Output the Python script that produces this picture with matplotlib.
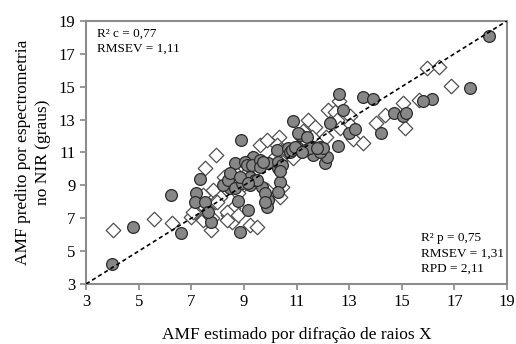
import matplotlib
matplotlib.use('Agg')
import matplotlib.pyplot as plt

# calibration set (filled circles)
cal_x = [4.0, 4.79, 6.23, 6.61, 8.89, 7.33, 7.18, 7.14, 7.75, 8.86, 9.16, 8.76,
         8.66, 9.35, 9.04, 9.12, 9.31, 9.61, 9.92, 10.26, 10.68, 11.02, 11.13,
         10.3, 10.3, 10.37, 10.3, 9.69, 9.92, 9.88, 9.23, 9.23, 9.61, 8.48, 8.21,
         8.4, 8.47, 8.66, 8.93, 9.42, 9.8, 9.8, 7.52, 7.64, 9.73, 10.45, 9.5,
         8.85, 10.75, 10.83, 10.94, 18.32, 17.6, 16.15, 15.81, 14.71, 15.05,
         15.16, 14.21, 13.53, 13.91, 12.62, 12.77, 12.27, 13.0, 13.22, 12.58,
         10.87, 11.06, 11.4, 11.59, 11.89, 12.08, 12.16, 11.63, 11.89, 11.32,
         11.51, 11.21, 12.01, 11.78, 9.16, 10.37]
cal_y = [4.22, 6.47, 8.42, 6.1, 11.76, 9.39, 8.54, 8.0, 6.77, 6.17, 7.5, 8.05,
         10.36, 10.73, 10.42, 10.24, 10.24, 10.55, 10.36, 11.15, 11.27, 11.34,
         12.07, 10.06, 10.42, 9.21, 8.6, 8.9, 8.11, 7.69, 9.02, 9.51, 10.12, 8.84,
         9.02, 9.33, 9.75, 8.84, 9.15, 9.33, 8.54, 7.99, 7.99, 7.38, 10.42,
         10.24, 9.33, 9.5, 11.03, 11.15, 11.34, 18.09, 14.92, 14.26, 14.13, 13.4,
         13.22, 13.4, 12.19, 14.38, 14.26, 14.56, 13.59, 12.8, 12.19, 12.43,
         11.4, 12.92, 12.19, 11.94, 11.34, 11.34, 10.36, 10.73, 10.85, 11.03,
         11.15, 11.27, 11.03, 11.27, 11.27, 9.15, 9.9]

# validation set (open diamonds)
val_x = [4.03, 5.59, 6.27, 7.94, 7.52, 8.25, 7.75, 7.45, 6.99, 8.4, 8.55, 9.23,
         9.5, 8.4, 8.59, 8.93, 9.61, 9.88, 10.34, 10.87, 10.37, 10.45, 9.88,
         9.12, 8.66, 8.85, 8.09, 7.83, 7.9, 7.26, 7.6, 7.14, 15.96, 16.42, 16.87,
         15.66, 15.05, 14.36, 14.02, 15.12, 12.62, 12.2, 12.46, 13.03, 12.54,
         13.03, 12.65, 12.12, 13.15, 13.53, 11.44, 11.25, 11.7, 11.59, 9.31,
         10.18, 10.37, 8.78, 10.37, 7.45, 7.98, 7.07, 7.79, 8.36, 8.36, 8.78,
         10.26, 10.37]
val_y = [6.29, 6.96, 6.71, 10.85, 10.06, 9.51, 6.29, 6.9, 7.08, 6.96, 6.77, 6.59,
         6.47, 7.2, 7.63, 10.24, 11.46, 11.76, 11.94, 10.67, 10.67, 8.9, 8.72,
         9.75, 9.02, 8.84, 8.29, 8.72, 7.99, 7.75, 7.32, 7.38, 16.14, 16.2, 15.05,
         14.19, 14.01, 13.28, 12.8, 12.49, 14.13, 13.59, 13.46, 13.22, 12.98,
         12.67, 12.49, 11.94, 11.82, 11.58, 12.98, 12.31, 12.55, 11.94, 10.67,
         10.73, 10.55, 8.54, 8.29, 8.42, 7.99, 7.38, 7.02, 7.38, 6.9, 7.2,
         11.46, 11.15]

ticks = [3, 5, 7, 9, 11, 13, 15, 17, 19]

plt.rcParams['font.family'] = ['Liberation Serif', 'DejaVu Serif']

fig = plt.figure(figsize=(5.16, 3.44), dpi=100)
ax = fig.add_axes([0.1667, 0.1744, 0.816, 0.765])

ax.scatter(val_x, val_y, s=55, marker='D', facecolor='white',
           edgecolor='#505050', linewidth=0.9, zorder=2)
ax.scatter(cal_x, cal_y, s=72, marker='o', facecolor='#878787',
           edgecolor='#2b2b2b', linewidth=0.9, zorder=3)
ax.plot([3, 19], [3, 19], color='black', linestyle=(0, (2.5, 1.8)),
        linewidth=1.2, zorder=4)

ax.set_xlim(3, 19)
ax.set_ylim(3, 19)
ax.set_xticks(ticks)
ax.set_yticks(ticks)
ax.tick_params(labelsize=12, color='#888888', length=4, width=1.2,
               direction='out')
for sp in ax.spines.values():
    sp.set_color('#8c8c8c')
    sp.set_linewidth(1.5)

ax.set_xlabel('AMF estimado por difração de raios X', fontsize=12.5,
              labelpad=12)
ax.set_ylabel('AMF predito por espectrometria\nno NIR (graus)', fontsize=12.5,
              labelpad=6, linespacing=1.3)

ax.text(0.025, 0.975, 'R² c = 0,77\nRMSEV = 1,11', transform=ax.transAxes,
        fontsize=9.5, va='top', ha='left', linespacing=1.35)
ax.text(0.795, 0.035, 'R² p = 0,75\nRMSEV = 1,31\nRPD = 2,11',
        transform=ax.transAxes, fontsize=9.5, va='bottom', ha='left',
        linespacing=1.35)

fig.savefig('out.png', dpi=100)
